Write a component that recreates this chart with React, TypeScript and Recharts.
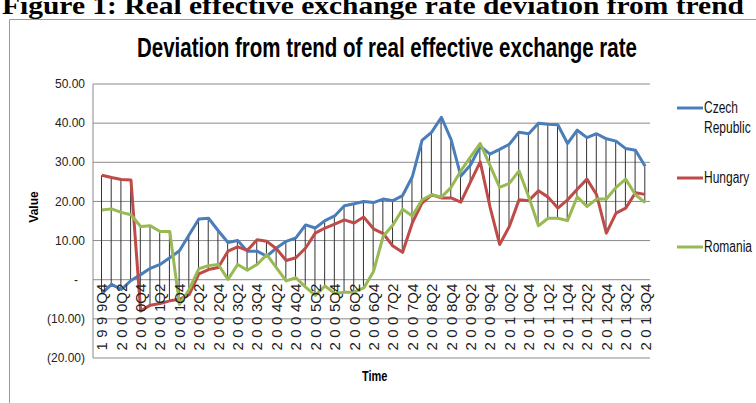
import React from 'react';
import { ComposedChart, Line, Bar, XAxis, YAxis, CartesianGrid } from 'recharts';

const categories = [
  '1999Q4',
  '2000Q1', '2000Q2', '2000Q3', '2000Q4',
  '2001Q1', '2001Q2', '2001Q3', '2001Q4',
  '2002Q1', '2002Q2', '2002Q3', '2002Q4',
  '2003Q1', '2003Q2', '2003Q3', '2003Q4',
  '2004Q1', '2004Q2', '2004Q3', '2004Q4',
  '2005Q1', '2005Q2', '2005Q3', '2005Q4',
  '2006Q1', '2006Q2', '2006Q3', '2006Q4',
  '2007Q1', '2007Q2', '2007Q3', '2007Q4',
  '2008Q1', '2008Q2', '2008Q3', '2008Q4',
  '2009Q1', '2009Q2', '2009Q3', '2009Q4',
  '2010Q1', '2010Q2', '2010Q3', '2010Q4',
  '2011Q1', '2011Q2', '2011Q3', '2011Q4',
  '2012Q1', '2012Q2', '2012Q3', '2012Q4',
  '2013Q1', '2013Q2', '2013Q3', '2013Q4',
];

const czechRepublic = [
  -3.5, -1.2, -2.5, -0.2, 1.3, 2.9, 3.9, 5.6, 7.4, 11.5, 15.5, 15.7, 12.5,
  9.5, 10.0, 7.3, 7.3, 6.0, 8.1, 9.8, 10.7, 14.0, 13.2, 15.1, 16.3,
  18.9, 19.4, 20.0, 19.7, 20.6, 20.2, 21.5, 26.3, 35.6, 37.7, 41.5, 35.8,
  26.5, 29.3, 34.1, 32.1, 33.3, 34.6, 37.7, 37.3, 40.0, 39.7, 39.6, 34.8,
  38.2, 36.3, 37.3, 36.0, 35.4, 33.5, 33.1, 29.0,
];

const hungary = [
  26.7, 26.1, 25.6, 25.5, -8.0, -6.5, -6.1, -5.4, -5.0, -3.8, 1.5, 2.6, 3.1,
  7.3, 8.4, 7.5, 10.2, 9.8, 7.9, 4.9, 5.6, 8.1, 11.9, 13.2, 14.2,
  15.3, 14.5, 16.0, 13.0, 11.8, 8.6, 7.0, 14.5, 19.6, 21.7, 20.9, 20.9,
  19.8, 25.0, 30.1, 18.7, 9.0, 13.6, 20.4, 20.2, 22.7, 21.1, 18.3, 20.4,
  23.1, 25.7, 21.7, 11.9, 17.0, 18.3, 22.2, 21.8,
];

const romania = [
  17.8, 18.1, 17.2, 16.6, 13.6, 13.8, 12.3, 12.3, -6.3, -2.5, 2.8, 3.6, 3.9,
  0.1, 3.9, 2.4, 3.9, 6.4, 3.0, -0.3, 0.5, -1.9, -4.0, -1.6, -3.5,
  -3.2, -3.2, -2.1, 2.1, 11.1, 14.0, 18.0, 16.3, 20.4, 21.7, 21.1, 23.6,
  27.8, 31.4, 34.8, 29.3, 23.6, 24.6, 27.8, 21.2, 13.8, 15.7, 15.7, 15.1,
  21.2, 18.7, 20.6, 20.6, 23.6, 25.7, 21.7, 19.7,
];

const yTicks = [-20, -10, 0, 10, 20, 30, 40, 50];

const seriesNames = ['Czech Republic', 'Hungary', 'Romania'];

const data = categories.map((q, i) => {
  const vals = [czechRepublic[i], hungary[i], romania[i]];
  return {
    q,
    czech: czechRepublic[i],
    hungary: hungary[i],
    romania: romania[i],
    range: [Math.min(...vals), Math.max(...vals)],
  };
});

// layout
const W = 756;
const H = 403;
const PLOT_RIGHT = 650;
const PLOT_TOP = 84;
const PLOT_BOTTOM = 358;
const Y_MIN = -20;
const Y_MAX = 50;
const ZERO_Y = PLOT_TOP + ((PLOT_BOTTOM - PLOT_TOP) * (Y_MAX - 0)) / (Y_MAX - Y_MIN);

const BLUE = '#4A7EBB';
const RED = '#BE4B48';
const GREEN = '#98B954';
const GRID = '#8a8a8a';
const SANS = "'Liberation Sans', Arial, sans-serif";

const XTick = (props: any) => {
  const { x, payload } = props;
  const label: string = payload.value;
  const head = label.slice(0, 3);
  const tail = label.slice(3);
  return (
    <text
      transform={`translate(${x},${ZERO_Y + 4}) rotate(-90)`}
      textAnchor="end"
      dy="0.36em"
      fontSize={15}
      fill="#222"
      fontFamily={SANS}
    >
      <tspan letterSpacing={4.5}>{head}</tspan>
      <tspan>{tail}</tspan>
    </text>
  );
};

const YTick = (props: any) => {
  const { y, payload } = props;
  const v: number = payload.value;
  const label = v === 0 ? '-' : v < 0 ? `(${Math.abs(v).toFixed(2)})` : v.toFixed(2);
  const x = v === 0 ? 78 : 85;
  return (
    <text x={x} y={y} dy="0.35em" textAnchor="end" fontSize={12} fill="#222" fontFamily={SANS}>
      {label}
    </text>
  );
};

const legendItems = [
  { color: BLUE, lineY: 108, lines: [{ t: 'Czech', y: 113 }, { t: 'Republic', y: 133 }] },
  { color: RED, lineY: 178, lines: [{ t: 'Hungary', y: 183 }] },
  { color: GREEN, lineY: 247, lines: [{ t: 'Romania', y: 252 }] },
];

export default function App() {
  return (
    <div
      style={{
        position: 'absolute',
        left: 0,
        top: 0,
        width: W,
        height: H,
        background: '#fff',
        overflow: 'hidden',
      }}
    >
      <svg width={W} height={H} style={{ position: 'absolute', left: 0, top: 0 }}>
        <line x1={9.5} y1={19.5} x2={W} y2={19.5} stroke="#9a9a9a" strokeWidth={1} />
        <line x1={9.5} y1={19.5} x2={9.5} y2={H} stroke="#9a9a9a" strokeWidth={1} />
        <text
          x={2}
          y={14}
          fontSize={25}
          fontWeight="bold"
          fontFamily="'Liberation Serif', 'Times New Roman', serif"
          textLength={742}
          lengthAdjust="spacingAndGlyphs"
          fill="#000"
        >
          Figure 1: Real effective exchange rate deviation from trend
        </text>
        <text
          transform="translate(137,57) scale(1,1.35)"
          fontSize={20.5}
          fontWeight="bold"
          fontFamily={SANS}
          fill="#000"
        >
          Deviation from trend of real effective exchange rate
        </text>
        <text
          transform="translate(38,207) rotate(-90)"
          textAnchor="middle"
          fontSize={12}
          fontWeight="bold"
          fontFamily={SANS}
          fill="#000"
        >
          Value
        </text>
        <text
          transform="translate(362,381) scale(1,1.4)"
          fontSize={11}
          fontWeight="bold"
          fontFamily={SANS}
          fill="#000"
        >
          Time
        </text>
      </svg>
      <div style={{ position: 'absolute', left: 0, top: 0 }}>
        <ComposedChart
          width={W}
          height={H}
          data={data}
          margin={{ top: PLOT_TOP, right: W - PLOT_RIGHT, bottom: H - PLOT_BOTTOM - 30, left: 13 }}
        >
          <CartesianGrid horizontal vertical={false} stroke={GRID} strokeWidth={1} />
          <XAxis
            dataKey="q"
            height={30}
            interval={1}
            tick={<XTick />}
            tickLine={false}
            axisLine={false}
            padding={{ left: 4, right: 0 }}
          />
          <YAxis
            width={80}
            domain={[Y_MIN, Y_MAX]}
            ticks={yTicks}
            tick={<YTick />}
            tickLine={false}
            axisLine={{ stroke: GRID }}
            allowDataOverflow
          />
          <Bar dataKey="range" barSize={1} fill="#333" isAnimationActive={false} />
          <Line
            type="linear"
            dataKey="czech"
            name={seriesNames[0]}
            stroke={BLUE}
            strokeWidth={3}
            dot={false}
            isAnimationActive={false}
            strokeLinejoin="round"
          />
          <Line
            type="linear"
            dataKey="hungary"
            name={seriesNames[1]}
            stroke={RED}
            strokeWidth={3}
            dot={false}
            isAnimationActive={false}
            strokeLinejoin="round"
          />
          <Line
            type="linear"
            dataKey="romania"
            name={seriesNames[2]}
            stroke={GREEN}
            strokeWidth={3}
            dot={false}
            isAnimationActive={false}
            strokeLinejoin="round"
          />
        </ComposedChart>
      </div>
      <svg width={W} height={H} style={{ position: 'absolute', left: 0, top: 0, pointerEvents: 'none' }}>
        {legendItems.map((it, i) => (
          <g key={i}>
            <line x1={677} y1={it.lineY} x2={703} y2={it.lineY} stroke={it.color} strokeWidth={3} />
            {it.lines.map((l, j) => (
              <text
                key={j}
                transform={`translate(704,${l.y}) scale(1,1.3)`}
                fontSize={12}
                fontFamily={SANS}
                fill="#111"
              >
                {l.t}
              </text>
            ))}
          </g>
        ))}
      </svg>
    </div>
  );
}
